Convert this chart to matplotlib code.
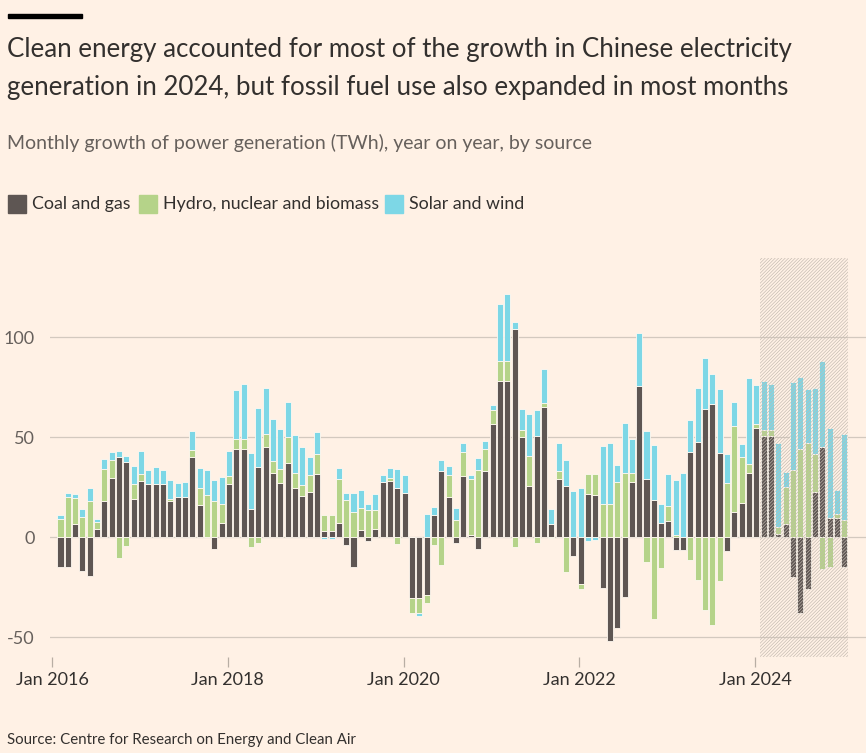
import numpy as np
import matplotlib
matplotlib.use("Agg")
import matplotlib.pyplot as plt
from matplotlib.patches import Rectangle

# ---------------- data (TWh, year-on-year change), Jan 2016 .. Dec 2024 ----------------
coal_gas = [
    -15, -15, 6.5, -17, -19.5, 3.8, 18, 29.3, 39.8, 37.7, 19.2, 28,
    26.3, 26.3, 26.3, 18, 20, 20, 40, 16, 0, -6, 6.8, 26.3,
    43.8, 43.8, 14.2, 34.8, 44.8, 32, 26.8, 36.8, 24.3, 20.5, 22.3, 31.5,
    3, 3, 7.2, -4, -15.2, 3.7, -1.8, 3.8, 27.4, 27.8, 24.3, 22.2,
    -30.7, -30.7, -29, 10.9, 33.2, 20, -2.8, 30.5, 0.8, -6.2, 33, 56.3,
    78, 78, 103.8, 50.2, 25.5, 50.5, 65.2, 6.7, 29, 25.5, -9.5, -23.5,
    21.5, 21, -25.3, -51.8, -45.3, -29.8, 27.3, 75.7, 29, 18.3, 6.8, 8,
    -6.5, -6.5, 42.3, 47.3, 64.2, 66.4, 41.8, -7, 12.5, 17, 32, 54.3,
    50.3, 50.3, 1.6, 6.3, -19.8, -37.8, -26.2, 22.5, 45, 9.7, 9.7, -15.2,
]
hydro_nuclear_biomass = [
    9, 20, 13, 10, 18, 3.8, 16, 9.3, -10.7, -4.5, 7.2, 3.5,
    0, 0, 0, 1, 0, 0, 3.7, 8.7, 21, 18, 9.7, 4,
    5.2, 5.2, -5, -3.2, 6.8, 6, 7.2, 13, 7.7, 5.5, 8.5, 10.2,
    8.2, 8.2, 21.8, 18.5, 12.7, 10.8, 13.5, 9.7, 0, 1.8, -3.7, 0,
    -7.5, -7.3, -3.8, -4, -13.8, 11, 8.5, 12, 28, 33.5, 11, 7,
    10, 10, -4.8, 3.2, 14.8, -2.8, 1.8, -0.7, 4, -17.3, 0, -2.5,
    9.8, 10.5, 16.7, 16.7, 27.3, 32, 4.7, 0, -12.3, -41, -15.3, 7.5,
    1, 0, -11.5, -21.5, -36.3, -44, -22.2, 26.8, 43, 23.2, 4.4, 2.2,
    3.3, 3.3, 3.6, 18.8, 33.5, 44.2, 46.8, 18.8, -16.2, -14.8, 1.7, 8.6,
]
solar_wind = [
    2, 1.8, 2, 4, 6.5, 1.5, 5.2, 3.7, 3, 2.8, 9, 11.5,
    7.2, 8.5, 7, 9.5, 7, 7.5, 9.3, 9.8, 12.5, 10.5, 13.5, 12.5,
    24.5, 27.3, 28, 29.6, 22.8, 21, 19.8, 17.8, 19, 19, 9.2, 11,
    -0.8, -0.8, 5.5, 3.3, 9.5, 8.8, 2.8, 8, 3.7, 4.8, 9.5, 8.8,
    0, -1.5, 11.4, 4.2, 5.2, 4.5, 6, 4.3, 2.2, 6, 4.2, 2.8,
    28.3, 33.5, 3.7, 10.8, 21.2, 13.2, 16.8, 7.2, 14, 13.2, 23.2, 24.5,
    -2.2, -1.5, 29, 30.3, 8.8, 25, 17.2, 26.3, 23.8, 27.5, 9.7, 16,
    27.5, 31.8, 16.2, 27, 25.5, 15.2, 32.3, 14.6, 12, 6.2, 43, 19.5,
    24.3, 23, 42, 7.3, 44, 36, 27.2, 33, 43, 45, 12.3, 43,
]
series_names = ["Coal and gas", "Hydro, nuclear and biomass", "Solar and wind"]
tick_months = [0, 24, 48, 72, 96]
tick_labels = ["Jan 2016", "Jan 2018", "Jan 2020", "Jan 2022", "Jan 2024"]
y_ticks = [-50, 0, 50, 100]
y_tick_labels = ["-50", "0", "50", "100"]
highlight_start = 96  # Jan 2024

# ---------------- style ----------------
BG = "#fff1e5"
COLORS = ["#5e5653", "#b5d389", "#7dd7e6"]
TEXT = "#33302e"
GREY = "#66605c"
GRID = "#d3c9bf"
FONT = "Lato"
plt.rcParams["font.family"] = [FONT, "DejaVu Sans"]
plt.rcParams["hatch.linewidth"] = 0.45

W, H = 866, 753
fig = plt.figure(figsize=(W / 100, H / 100), dpi=100, facecolor=BG)

def fx(px):
    return px / W

def fy(py):
    return 1 - py / H

# axes: left px 50, right px 866, top px 258, bottom px 657
ax = fig.add_axes([fx(50), fy(657), fx(866) - fx(50), fy(258) - fy(657)])
ax.set_facecolor(BG)
px_per_month = 7.325
x_left = (50 - 52) / px_per_month
x_right = (866 - 52) / px_per_month
ax.set_xlim(x_left, x_right)
ax.set_ylim(-60, 139.5)

n = len(coal_gas)
x = np.arange(n) + 0.75 + 0.41
width = 0.82
pos_base = np.zeros(n)
neg_base = np.zeros(n)
for vals, col, name in zip([coal_gas, hydro_nuclear_biomass, solar_wind], COLORS, series_names):
    v = np.asarray(vals, dtype=float)
    bottom = np.where(v >= 0, pos_base, neg_base)
    ax.bar(x, v, width=width, bottom=bottom, color=col, edgecolor="#fff8f0",
           linewidth=0.6, zorder=2, label=name)
    pos_base = pos_base + np.where(v >= 0, v, 0)
    neg_base = neg_base + np.where(v < 0, v, 0)

# highlight region
hx0 = highlight_start + 0.75 - 0.1
hx1 = n + 0.75 + 0.82 - 1 + 0.05
ax.add_patch(Rectangle((hx0, -60), hx1 - hx0, 199.5, facecolor="none",
                       edgecolor="#c2b8ae", hatch="//////////", linewidth=0, zorder=3))

# grid
for yv in y_ticks:
    ax.axhline(yv, color=GRID, linewidth=0.9, zorder=1)

for s in ax.spines.values():
    s.set_visible(False)
ax.set_yticks(y_ticks)
ax.set_yticklabels(y_tick_labels)
ax.tick_params(axis="y", length=0, pad=10.8, labelsize=13, labelcolor=GREY)
ax.set_xticks(tick_months)
ax.set_xticklabels(tick_labels)
ax.tick_params(axis="x", length=7, width=0.9, color="#b8aea4", pad=4,
               labelsize=13, labelcolor=TEXT)

# ---------------- texts ----------------
fig.add_artist(Rectangle((fx(8), fy(18)), fx(82) - fx(8), fy(14) - fy(18),
                         transform=fig.transFigure, color="#000000"))
fig.text(fx(7), fy(50), "Clean energy accounted for most of the growth in Chinese electricity",
         fontsize=18.6, color=TEXT, va="center", ha="left")
fig.text(fx(7), fy(88), "generation in 2024, but fossil fuel use also expanded in most months",
         fontsize=18.6, color=TEXT, va="center", ha="left")
fig.text(fx(7), fy(143), "Monthly growth of power generation (TWh), year on year, by source",
         fontsize=14, color=GREY, va="center", ha="left")

leg_items = [(8, 32, series_names[0]), (139, 163, series_names[1]), (385, 409, series_names[2])]
for (sx, tx, name), col in zip(leg_items, COLORS):
    fig.add_artist(Rectangle((fx(sx), fy(213)), fx(18), fy(195) - fy(213),
                             transform=fig.transFigure, color=col))
    fig.text(fx(tx), fy(204), name, fontsize=12.8, color=TEXT, va="center", ha="left")

fig.text(fx(7), fy(740), "Source: Centre for Research on Energy and Clean Air",
         fontsize=10.8, color=TEXT, va="center", ha="left")

fig.savefig("out.png", dpi=100, facecolor=BG)
